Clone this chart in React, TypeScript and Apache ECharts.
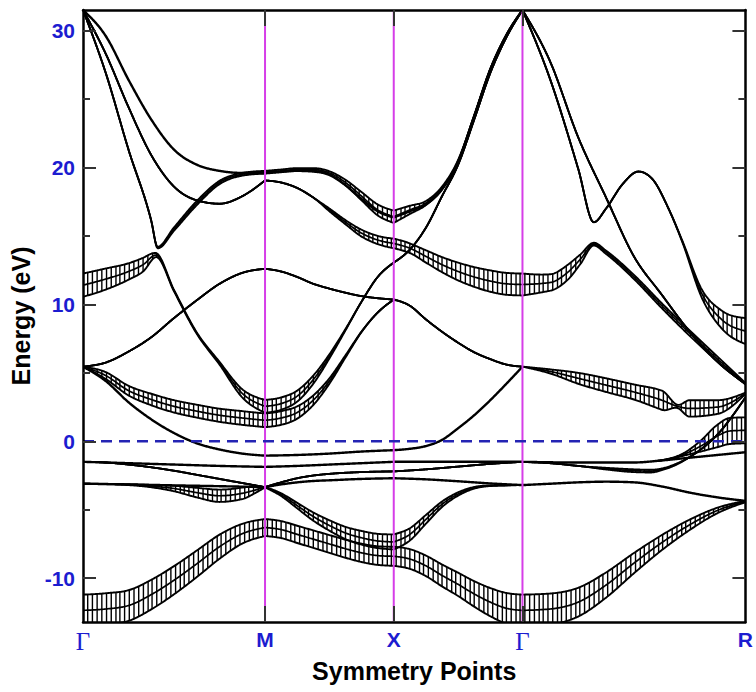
import { useEffect, useRef } from 'react';
import * as echarts from 'echarts';

// A band point: [path position, energy (eV), fat-band half width (eV)].
// Path position = segment index + fraction along it (0 = Γ, 1 = M, 2 = X, 3 = Γ, 4 = R).
type BandPoint = [number, number, number?];

const symmetryLabels = ['Γ', 'M', 'X', 'Γ', 'R'];
const segmentLengths = [Math.SQRT1_2, 0.5, 0.5, Math.sqrt(3) / 2];
const symmetryK = segmentLengths.reduce<number[]>((acc, len) => [...acc, acc[acc.length - 1] + len], [0]);
const energyMajorTicks = [-10, 0, 10, 20, 30];
const energyMinorTicks = [-5, 5, 15, 25];
const energyMin = -13.2;
const energyMax = 31.5;
const fermiEnergy = 0;

const bandLowest: BandPoint[] = [
  [0, -12.35, 1.15], [0.125, -12.25, 1.15], [0.25, -12.0, 1.12], [0.375, -11.2, 1.08], [0.5, -10.15, 1.03],
  [0.625, -8.95, 0.97], [0.75, -7.7, 0.88], [0.875, -6.75, 0.72], [1, -6.3, 0.62],
  [1.125, -6.45, 0.62], [1.25, -6.8, 0.63], [1.375, -7.15, 0.64], [1.5, -7.5, 0.65], [1.625, -7.85, 0.66],
  [1.75, -8.15, 0.67], [1.875, -8.35, 0.68], [2, -8.4, 0.7],
  [2.125, -8.6, 0.72], [2.25, -9.1, 0.75], [2.375, -9.8, 0.8], [2.5, -10.45, 0.85], [2.625, -11.15, 0.93],
  [2.75, -11.75, 1.03], [2.875, -12.2, 1.12], [3, -12.35, 1.15],
  [3.125, -12.25, 1.13], [3.25, -11.75, 1.05], [3.375, -10.5, 0.92], [3.5, -8.9, 0.74], [3.625, -7.4, 0.55],
  [3.75, -6.1, 0.38], [3.875, -5.05, 0.2], [4, -4.4, 0.05],
];

const bandFlatLow: BandPoint[] = [
  [0, -3.1], [0.25, -3.15], [0.5, -3.22], [0.75, -3.28], [1, -3.35],
  [1.125, -3.15], [1.25, -3.0], [1.375, -2.9], [1.5, -2.85], [1.75, -2.75], [2, -2.7],
  [2.25, -2.78], [2.5, -2.92], [2.75, -3.08], [3, -3.2],
  [3.125, -3.1], [3.25, -3.0], [3.375, -2.95], [3.5, -3.0], [3.625, -3.3], [3.75, -3.75], [3.875, -4.1], [4, -4.35],
];

const bandDip: BandPoint[] = [
  [0, -3.1, 0], [0.25, -3.17, 0.03], [0.375, -3.28, 0.08], [0.5, -3.45, 0.2], [0.625, -3.75, 0.35],
  [0.75, -3.98, 0.45], [0.875, -3.8, 0.42], [0.95, -3.55, 0.2], [1, -3.35, 0.02],
  [1.125, -3.9, 0.1], [1.25, -4.7, 0.2], [1.375, -5.5, 0.3], [1.5, -6.15, 0.38], [1.625, -6.7, 0.45],
  [1.75, -7.05, 0.5], [1.875, -7.28, 0.52], [2, -7.35, 0.55],
  [2.125, -6.8, 0.45], [2.25, -5.7, 0.32], [2.375, -4.6, 0.2], [2.5, -3.85, 0.12], [2.625, -3.4, 0.06],
  [2.75, -3.25, 0.02], [3, -3.2, 0],
];

const bandUpperFlat: BandPoint[] = [
  [0, -1.5], [0.25, -1.6], [0.5, -1.7], [0.75, -1.8], [1, -1.87],
  [1.25, -1.8], [1.5, -1.7], [1.75, -1.6], [2, -1.5],
  [2.5, -1.5], [3, -1.5],
  [3.25, -1.55], [3.5, -1.55], [3.625, -1.4], [3.75, -1.2], [3.875, -1.0], [4, -0.8],
];

const bandCrossing: BandPoint[] = [
  [0, -1.5], [0.125, -1.55], [0.25, -1.7], [0.375, -1.9], [0.5, -2.15], [0.625, -2.45], [0.75, -2.75],
  [0.875, -3.05], [1, -3.35],
  [1.125, -3.0], [1.25, -2.7], [1.375, -2.5], [1.5, -2.38], [1.75, -2.25], [2, -2.2],
  [2.25, -2.05], [2.5, -1.85], [2.75, -1.65], [3, -1.5],
  [3.125, -1.6], [3.25, -1.8], [3.375, -2.0, 0.06], [3.5, -2.15, 0.1], [3.575, -2.18, 0.1], [3.625, -2.05, 0.06],
  [3.7, -1.6, 0.03], [3.75, -1.15, 0], [3.875, 0.5, 0], [4, 3.2, 0],
];

const bandFermiCrossing: BandPoint[] = [
  [0, 5.45], [0.125, 4.4], [0.25, 2.85], [0.375, 1.6], [0.5, 0.6], [0.625, -0.15], [0.75, -0.6], [0.875, -0.9], [1, -1.05],
  [1.25, -1.0], [1.5, -0.9], [1.75, -0.75], [2, -0.65],
  [2.125, -0.55], [2.25, -0.35], [2.375, 0.1], [2.5, 0.95], [2.625, 1.9], [2.75, 3.0], [2.875, 4.2], [3, 5.45],
];

const bandLowerPocket: BandPoint[] = [
  [0, 5.45, 0], [0.125, 4.8, 0.25], [0.25, 3.7, 0.35], [0.375, 3.05, 0.42], [0.5, 2.55, 0.45], [0.625, 2.2, 0.47],
  [0.75, 1.9, 0.48], [0.875, 1.7, 0.5], [1, 1.53, 0.5],
  [1.125, 1.7, 0.5], [1.25, 2.1, 0.45], [1.375, 3.0, 0.35], [1.5, 4.4, 0.2], [1.625, 6.2, 0.08],
  [1.75, 8.0, 0.02], [1.875, 9.4, 0], [2, 10.35, 0],
];

const bandUpperPocket: BandPoint[] = [
  [0, 11.4, 0.85], [0.125, 11.85, 0.77], [0.25, 12.4, 0.6], [0.33, 12.9, 0.5], [0.4, 13.6, 0.15], [0.5, 11.0, 0.05],
  [0.625, 7.9, 0.05], [0.75, 5.7, 0.1], [0.875, 3.5, 0.3], [1, 2.55, 0.47],
  [1.125, 2.75, 0.45], [1.25, 3.3, 0.4], [1.375, 4.5, 0.3], [1.5, 6.2, 0.15], [1.625, 8.15, 0.05],
  [1.75, 10.2, 0], [1.875, 12.0, 0], [2, 13.05, 0],
  [2.125, 14.0], [2.25, 15.6], [2.375, 17.9], [2.5, 20.2], [2.625, 23.5], [2.75, 26.9], [2.875, 29.5], [3, 31.5],
  [3.125, 27.7], [3.25, 22.2], [3.375, 17.8], [3.5, 13.5], [3.625, 10.7], [3.75, 8.0], [3.875, 5.8], [4, 4.2],
];

const bandSteepTop: BandPoint[] = [
  [0, 31.5], [0.125, 26.9], [0.25, 21.3], [0.375, 16.1], [0.41, 14.15, 0.05], [0.5, 15.5, 0.12], [0.625, 17.4, 0.15],
  [0.75, 18.9, 0.12], [0.875, 19.5, 0.1], [1, 19.65, 0.1],
  [1.125, 19.75, 0.1], [1.25, 19.85, 0.1], [1.375, 19.85, 0.1], [1.5, 19.6, 0.12], [1.625, 18.9, 0.2],
  [1.75, 17.9, 0.3], [1.875, 16.9, 0.4], [2, 16.4, 0.45],
  [2.125, 16.9, 0.3], [2.25, 17.4, 0.15], [2.375, 18.5, 0.1], [2.5, 20.5, 0.05], [2.625, 23.8, 0], [2.75, 27.2, 0],
  [2.875, 29.7, 0], [3, 31.5, 0],
  [3.125, 26.4], [3.25, 19.9], [3.32, 16.0], [3.375, 17.0], [3.45, 18.8], [3.52, 19.7], [3.58, 19.2], [3.655, 17.0],
  [3.717, 14.6, 0.05], [3.804, 10.8, 0.3], [3.893, 8.9, 0.65], [4, 8.05, 0.95],
];

const bandOuterTop: BandPoint[] = [
  [0, 31.5], [0.125, 29.6], [0.25, 26.4], [0.375, 23.5], [0.5, 21.3], [0.625, 20.2], [0.75, 19.75], [0.875, 19.6], [1, 19.6],
  [1.125, 19.7], [1.25, 19.75], [1.375, 19.7], [1.5, 19.45], [1.625, 18.7], [1.75, 17.7], [1.875, 16.8], [2, 16.35],
  [2.125, 16.8], [2.25, 17.3], [2.375, 18.4], [2.5, 20.4], [2.625, 23.7], [2.75, 27.1], [2.875, 29.6], [3, 31.5],
];

const bandMiddleTop: BandPoint[] = [
  [0, 31.5], [0.125, 28.3], [0.25, 24.4], [0.375, 20.9], [0.5, 18.6], [0.625, 17.6], [0.75, 17.35], [0.875, 17.9], [1, 19.05],
  [1.125, 18.9], [1.25, 18.5], [1.375, 17.8], [1.5, 16.9, 0.1], [1.625, 16.0, 0.15], [1.75, 15.2, 0.25],
  [1.875, 14.7, 0.3], [2, 14.45, 0.35],
  [2.125, 14.1, 0.35], [2.25, 13.5, 0.45], [2.375, 12.9, 0.55], [2.5, 12.4, 0.65], [2.625, 12.0, 0.72],
  [2.75, 11.7, 0.78], [2.875, 11.5, 0.8], [3, 11.45, 0.8],
  [3.125, 11.6, 0.6], [3.2, 12.3, 0.55], [3.26, 13.3, 0.35], [3.32, 14.4, 0.1], [3.375, 13.8, 0.12], [3.5, 12.0, 0.15],
  [3.625, 9.9, 0.18], [3.75, 7.9, 0.2], [3.875, 6.0, 0.18], [4, 4.2, 0.05],
];

const bandMidValley: BandPoint[] = [
  [0, 5.45], [0.125, 5.75], [0.25, 6.55], [0.375, 7.6], [0.5, 9.0], [0.625, 10.3], [0.75, 11.5], [0.875, 12.3], [1, 12.6],
  [1.125, 12.4], [1.25, 12.0], [1.375, 11.5], [1.5, 11.15], [1.625, 10.85], [1.75, 10.6], [1.875, 10.45], [2, 10.35],
  [2.125, 9.9], [2.25, 8.9], [2.375, 8.0], [2.5, 7.2], [2.625, 6.5], [2.75, 6.0], [2.875, 5.6], [3, 5.45],
  [3.125, 5.1, 0.15], [3.25, 4.6, 0.4], [3.375, 4.1, 0.5], [3.5, 3.6, 0.55], [3.625, 3.0, 0.7], [3.695, 2.55, 0.12],
  [3.75, 2.4, 0.6], [3.875, 2.5, 0.5], [4, 3.5, 0.05],
];

const bandNearR: BandPoint[] = [
  [3.6, -1.45, 0], [3.7, -1.1, 0.05], [3.8, -0.35, 0.4], [3.87, 0.35, 0.8], [3.93, 0.75, 0.95], [4, 0.8, 0.95],
];

const bands: BandPoint[][] = [
  bandLowest, bandFlatLow, bandDip, bandUpperFlat, bandCrossing, bandFermiCrossing, bandLowerPocket,
  bandUpperPocket, bandSteepTop, bandOuterTop, bandMiddleTop, bandMidValley, bandNearR,
];

const labelBlue = '#1c1cd0';
const sans = 'Liberation Sans, Arial, Helvetica, sans-serif';
const serif = 'Liberation Serif, Times New Roman, serif';
const HATCH_STEP = 4.6;

function toK(pos: number): number {
  const s = Math.min(3, Math.max(0, Math.floor(pos)));
  return symmetryK[s] + (pos - s) * segmentLengths[s];
}

// Monotone cubic tangents, so curves never overshoot the tabulated values.
function monotoneSlopes(ts: number[], ys: number[]): number[] {
  const n = ts.length;
  const m = new Array(n).fill(0);
  const d: number[] = [];
  for (let i = 0; i < n - 1; i++) d.push((ys[i + 1] - ys[i]) / (ts[i + 1] - ts[i]));
  if (n === 2) return [d[0], d[0]];
  for (let i = 1; i < n - 1; i++) {
    const h0 = ts[i] - ts[i - 1];
    const h1 = ts[i + 1] - ts[i];
    const s0 = d[i - 1];
    const s1 = d[i];
    const p = (s0 * h1 + s1 * h0) / (h0 + h1);
    m[i] = (Math.sign(s0) + Math.sign(s1)) * Math.min(Math.abs(s0), Math.abs(s1), 0.5 * Math.abs(p)) || 0;
  }
  m[0] = (3 * d[0] - m[1]) / 2;
  m[n - 1] = (3 * d[n - 2] - m[n - 2]) / 2;
  return m;
}

function hermite(t0: number, t1: number, y0: number, y1: number, m0: number, m1: number, t: number): number {
  const h = t1 - t0;
  const u = (t - t0) / h;
  const u2 = u * u;
  const u3 = u2 * u;
  return (2 * u3 - 3 * u2 + 1) * y0 + (u3 - 2 * u2 + u) * h * m0 + (-2 * u3 + 3 * u2) * y1 + (u3 - u2) * h * m1;
}

// Dense [k, energy, halfWidth] samples, each path segment interpolated on its own.
function sampleBand(points: BandPoint[]): [number, number, number][] {
  const out: [number, number, number][] = [];
  for (let s = 0; s < 4; s++) {
    const pts = points.filter((p) => p[0] >= s - 1e-9 && p[0] <= s + 1 + 1e-9);
    if (pts.length < 2) continue;
    const ts = pts.map((p) => p[0]);
    const es = pts.map((p) => p[1]);
    const ws = pts.map((p) => p[2] ?? 0);
    const me = monotoneSlopes(ts, es);
    const mw = monotoneSlopes(ts, ws);
    for (let i = 0; i < pts.length - 1; i++) {
      const dt = ts[i + 1] - ts[i];
      const n = Math.max(2, Math.ceil(dt * segmentLengths[s] * 320));
      for (let j = 0; j <= n; j++) {
        if (j === n && i < pts.length - 2) continue;
        const t = ts[i] + (dt * j) / n;
        const e = hermite(ts[i], ts[i + 1], es[i], es[i + 1], me[i], me[i + 1], t);
        const w = Math.max(0, hermite(ts[i], ts[i + 1], ws[i], ws[i + 1], mw[i], mw[i + 1], t));
        out.push([toK(t), e, w]);
      }
    }
  }
  return out;
}

function renderBand(params: any, api: any) {
  const pts = bands[params.dataIndex];
  const samples = sampleBand(pts);
  const fat = pts.some((p) => (p[2] ?? 0) > 0);
  const center = samples.map(([k, e]) => api.coord([k, e]));
  const lineStyle = (width: number) => ({ stroke: '#000', lineWidth: width, fill: null, lineJoin: 'round' });
  const children: any[] = [{ type: 'polyline', shape: { points: center }, style: lineStyle(fat ? 1.7 : 2.4) }];
  if (fat) {
    const upper = samples.map(([k, e, w]) => api.coord([k, e + w]));
    const lower = samples.map(([k, e, w]) => api.coord([k, e - w]));
    children.push({ type: 'polyline', shape: { points: upper }, style: lineStyle(1.9) });
    children.push({ type: 'polyline', shape: { points: lower }, style: lineStyle(1.9) });
    const x0 = api.coord([0, 0])[0];
    let last = NaN;
    for (let i = 0; i < samples.length; i++) {
      const cell = Math.floor((center[i][0] - x0) / HATCH_STEP);
      if (cell === last) continue;
      last = cell;
      if (lower[i][1] - upper[i][1] < 2.5) continue;
      children.push({
        type: 'line',
        shape: { x1: upper[i][0], y1: upper[i][1], x2: lower[i][0], y2: lower[i][1] },
        style: { stroke: '#000', lineWidth: 1.4 },
      });
    }
  }
  return { type: 'group', children };
}

function symmetryLabel(value: number): string {
  const i = symmetryK.findIndex((k) => Math.abs(k - value) < 1e-6);
  if (i < 0) return '';
  const text = symmetryLabels[i];
  return text === 'Γ' ? `{g|${text}}` : `{s|${text}}`;
}

const frameLine = { show: true, onZero: false, lineStyle: { color: '#000', width: 2.5 } };
const tickStyle = { color: '#333', width: 2 };

export default function App() {
  const ref = useRef<HTMLDivElement>(null);

  useEffect(() => {
    if (!ref.current) return;
    const chart = echarts.init(ref.current, undefined, { renderer: 'svg' });
    const xCommon = {
      type: 'value' as const,
      min: symmetryK[0],
      max: symmetryK[4],
      z: 5,
      axisLine: frameLine,
      splitLine: { show: false },
      axisTick: { show: true, inside: true, length: 16, customValues: symmetryK.slice(1, 4), lineStyle: tickStyle },
    };
    const yCommon = {
      type: 'value' as const,
      min: energyMin,
      max: energyMax,
      z: 5,
      splitLine: { show: false },
    };
    chart.setOption({
      animation: false,
      backgroundColor: '#fff',
      grid: { left: 83, right: 5, top: 10, bottom: 70, containLabel: false },
      xAxis: [
        {
          ...xCommon,
          position: 'bottom',
          axisLabel: {
            show: true,
            customValues: symmetryK,
            margin: 7,
            showMinLabel: true,
            showMaxLabel: true,
            formatter: symmetryLabel,
            rich: {
              g: { fontFamily: serif, fontSize: 25, color: labelBlue },
              s: { fontFamily: sans, fontWeight: 'bold', fontSize: 21, color: labelBlue },
            },
          },
          name: 'Symmetry Points',
          nameLocation: 'middle',
          nameGap: 33,
          nameTextStyle: { fontFamily: sans, fontWeight: 'bold', fontSize: 25, color: '#000' },
        },
        { ...xCommon, position: 'top', axisLabel: { show: false } },
      ],
      yAxis: [
        {
          ...yCommon,
          position: 'left',
          axisLine: frameLine,
          axisTick: { show: true, inside: true, length: 13, customValues: energyMajorTicks, lineStyle: tickStyle },
          axisLabel: {
            show: true,
            customValues: energyMajorTicks,
            margin: 8,
            color: labelBlue,
            fontFamily: sans,
            fontWeight: 'bold',
            fontSize: 21,
          },
          name: 'Energy (eV)',
          nameLocation: 'middle',
          nameRotate: 90,
          nameGap: 43,
          nameTextStyle: { fontFamily: sans, fontWeight: 'bold', fontSize: 25, color: '#000' },
        },
        {
          ...yCommon,
          position: 'left',
          axisLine: { show: false, onZero: false },
          axisTick: { show: true, inside: true, length: 7, customValues: energyMinorTicks, lineStyle: tickStyle },
          axisLabel: { show: false },
        },
        {
          ...yCommon,
          position: 'right',
          axisLine: frameLine,
          axisTick: { show: true, inside: true, length: 13, customValues: energyMajorTicks, lineStyle: tickStyle },
          axisLabel: { show: false },
        },
        {
          ...yCommon,
          position: 'right',
          axisLine: { show: false, onZero: false },
          axisTick: { show: true, inside: true, length: 7, customValues: energyMinorTicks, lineStyle: tickStyle },
          axisLabel: { show: false },
        },
      ],
      series: [
        {
          type: 'custom',
          name: 'bands',
          xAxisIndex: 0,
          yAxisIndex: 0,
          clip: true,
          silent: true,
          z: 2,
          data: bands.map(() => [symmetryK[0], fermiEnergy]),
          renderItem: renderBand,
        },
        {
          type: 'custom',
          name: 'symmetry lines',
          xAxisIndex: 0,
          yAxisIndex: 0,
          clip: true,
          silent: true,
          z: 3,
          data: symmetryK.slice(1, 4).map((k) => [k, energyMin]),
          renderItem: (_params: any, api: any) => {
            const k = api.value(0);
            const top = api.coord([k, energyMax]);
            const bottom = api.coord([k, energyMin]);
            return {
              type: 'line',
              shape: { x1: top[0], y1: top[1], x2: bottom[0], y2: bottom[1] },
              style: { stroke: '#d63ee8', lineWidth: 2 },
            };
          },
        },
        {
          type: 'custom',
          name: 'Fermi level',
          xAxisIndex: 0,
          yAxisIndex: 0,
          clip: true,
          silent: true,
          z: 3,
          data: [[symmetryK[0], fermiEnergy]],
          renderItem: (_params: any, api: any) => {
            const a = api.coord([symmetryK[0], fermiEnergy]);
            const b = api.coord([symmetryK[4], fermiEnergy]);
            return {
              type: 'line',
              shape: { x1: a[0], y1: a[1], x2: b[0], y2: b[1] },
              style: { stroke: '#2424b4', lineWidth: 2.5, lineDash: [11, 7] },
            };
          },
        },
      ],
    });
    return () => chart.dispose();
  }, []);

  return (
    <div
      ref={ref}
      style={{ position: 'fixed', left: 0, top: 0, width: 756, height: 692, background: '#fff' }}
    />
  );
}
